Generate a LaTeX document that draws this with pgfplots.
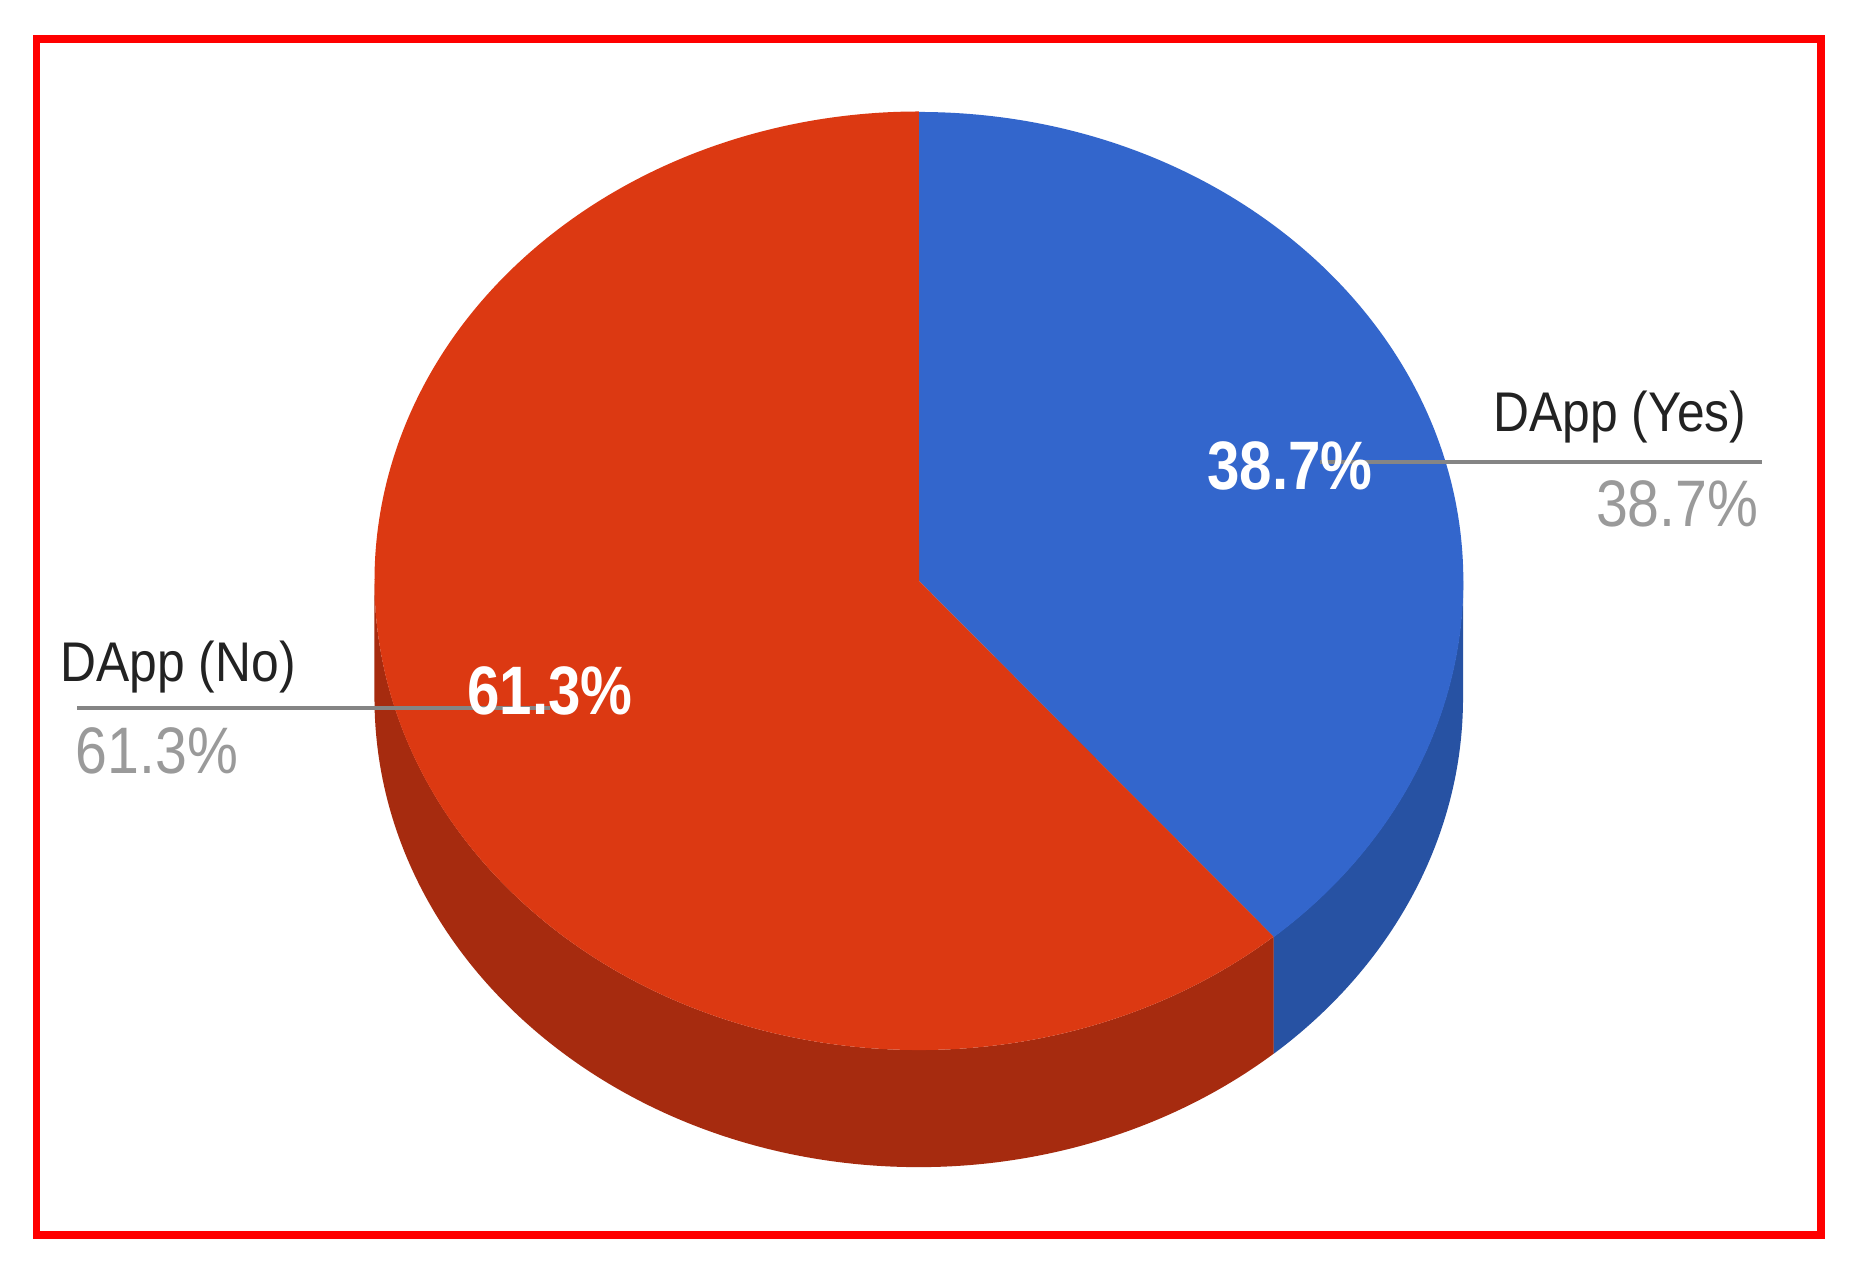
\documentclass[border=0pt]{standalone}
\usepackage{pgfplots}
\pgfplotsset{compat=1.18}
\usepackage{fontspec}
\setmainfont{Liberation Sans}
\newfontfamily\labfont[FakeStretch=0.89]{Liberation Sans}
\newfontfamily\pctfont[FakeStretch=0.87]{Liberation Sans}
\newfontfamily\inpctfont[FakeStretch=0.85]{Liberation Sans}
\definecolor{pieRed}{HTML}{DC3912}
\definecolor{pieRedSide}{HTML}{A62B0F}
\definecolor{pieBlue}{HTML}{3366CC}
\definecolor{pieBlueSide}{HTML}{2752A3}
\definecolor{labGray}{HTML}{222222}
\definecolor{pctGray}{HTML}{9A9A9A}
\definecolor{leadGray}{HTML}{858585}
% data (percent)
\def\valYes{38.7}
\def\valNo{61.3}
% geometry (pixels)
\def\cx{919}
\def\cy{685}
\def\rx{544}
\def\ry{469}
\pgfmathsetmacro\angB{90-3.6*\valYes}
\pgfmathsetmacro\angEnd{\angB-3.6*\valNo}
\begin{document}
\begin{tikzpicture}
\begin{axis}[x=0.01cm,y=0.01cm,xmin=0,xmax=1851,ymin=0,ymax=1266,
  hide axis,clip=false]
\fill[white] (axis cs:0,0) rectangle (axis cs:1851,1266);
% side walls
\fill[pieBlueSide] (axis cs:{\cx+\rx},\cy)
  arc[start angle=0,end angle=\angB,x radius=5.44cm,y radius=4.69cm]
  -- ++(0,-1.17cm)
  arc[start angle=\angB,end angle=0,x radius=5.44cm,y radius=4.69cm] -- cycle;
\fill[pieRedSide] (axis cs:{\cx+\rx*cos(\angB)},{\cy+\ry*sin(\angB)})
  arc[start angle=\angB,end angle=-180,x radius=5.44cm,y radius=4.69cm]
  -- ++(0,-1.17cm)
  arc[start angle=-180,end angle=\angB,x radius=5.44cm,y radius=4.69cm] -- cycle;
% top faces
\fill[pieBlue] (axis cs:\cx,\cy) -- (axis cs:\cx,{\cy+\ry})
  arc[start angle=90,end angle=\angB,x radius=5.44cm,y radius=4.69cm] -- cycle;
\fill[pieRed] (axis cs:\cx,\cy) -- (axis cs:{\cx+\rx*cos(\angB)},{\cy+\ry*sin(\angB)})
  arc[start angle=\angB,end angle=\angEnd,x radius=5.44cm,y radius=4.69cm] -- cycle;
% leader lines
\draw[leadGray,line width=0.4mm] (axis cs:1320,804) -- (axis cs:1762,804);
\draw[leadGray,line width=0.4mm] (axis cs:77,558) -- (axis cs:550,558);
% labels
\node[anchor=base west,inner sep=0pt,text=labGray,font=\labfont\fontsize{15.9}{19}\selectfont]
  at (axis cs:1493,834) {DApp (Yes)};
\node[anchor=base east,inner sep=0pt,text=pctGray,font=\pctfont\fontsize{18.7}{22}\selectfont]
  at (axis cs:1759,739) {\valYes\%};
\node[anchor=base west,inner sep=0pt,text=labGray,font=\labfont\fontsize{15.9}{19}\selectfont]
  at (axis cs:60,584) {DApp (No)};
\node[anchor=base west,inner sep=0pt,text=pctGray,font=\pctfont\fontsize{18.7}{22}\selectfont]
  at (axis cs:75,492) {\valNo\%};
\node[anchor=base,inner sep=0pt,text=white,font=\inpctfont\bfseries\fontsize{19.5}{23}\selectfont]
  at (axis cs:1290,776) {\valYes\%};
\node[anchor=base,inner sep=0pt,text=white,font=\inpctfont\bfseries\fontsize{19.5}{23}\selectfont]
  at (axis cs:550,551) {\valNo\%};
% frame
\draw[red,line width=0.75mm] (axis cs:36.5,1227) rectangle (axis cs:1821,31);
\end{axis}
\end{tikzpicture}
\end{document}
